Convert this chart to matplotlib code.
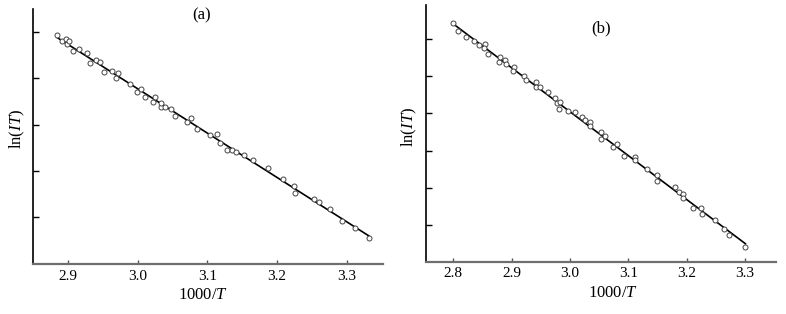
import matplotlib.pyplot as plt
import numpy as np

plt.rcParams['font.family'] = ['Liberation Serif', 'DejaVu Serif']
plt.rcParams['mathtext.fontset'] = 'custom'
plt.rcParams['mathtext.it'] = 'Liberation Serif:italic'
plt.rcParams['mathtext.rm'] = 'Liberation Serif'

# panel (a): 1000/T vs ln(IT) (y in tick units, no labels shown)
xa = [2.8846, 2.8909, 2.8962, 2.8976, 2.9014, 2.9072, 2.9154, 2.9269, 2.9313,
      2.9394, 2.9452, 2.9510, 2.9630, 2.9683, 2.9712, 2.9894, 2.9995, 3.0048,
      3.0106, 3.0216, 3.0245, 3.0327, 3.0337, 3.0389, 3.0476, 3.0534, 3.0707,
      3.0764, 3.0851, 3.1038, 3.1144, 3.1178, 3.1279, 3.1346, 3.1404, 3.1524,
      3.1654, 3.1865, 3.2091, 3.2240, 3.2255, 3.2534, 3.2606, 3.2760, 3.2933,
      3.3115, 3.3317]
ya = [3.942, 3.819, 3.848, 3.740, 3.805, 3.596, 3.632, 3.545, 3.336,
      3.394, 3.350, 3.134, 3.162, 3.004, 3.112, 2.888, 2.708, 2.765,
      2.592, 2.484, 2.592, 2.375, 2.462, 2.383, 2.347, 2.195, 2.058,
      2.152, 1.899, 1.776, 1.798, 1.610, 1.458, 1.444, 1.401, 1.336,
      1.227, 1.054, 0.823, 0.679, 0.527, 0.383, 0.332, 0.181, -0.079,
      -0.231, -0.462]

# panel (b)
xb = [2.7989, 2.8086, 2.8211, 2.8348, 2.8434, 2.8542, 2.8531, 2.8588, 2.8782,
      2.8805, 2.8890, 2.8896, 2.9033, 2.9016, 2.9216, 2.9239, 2.9416, 2.9421,
      2.9490, 2.9621, 2.9741, 2.9769, 2.9804, 2.9832, 2.9963, 3.0078, 3.0198,
      3.0260, 3.0335, 3.0346, 3.0523, 3.0534, 3.0603, 3.0740, 3.0808, 3.0928,
      3.1105, 3.1116, 3.1311, 3.1482, 3.1488, 3.1796, 3.1864, 3.1944, 3.1933,
      3.2104, 3.2241, 3.2258, 3.2486, 3.2635, 3.2732, 3.3006]
yb = [5.421, 5.215, 5.045, 4.937, 4.848, 4.857, 4.758, 4.597, 4.391,
      4.507, 4.427, 4.319, 4.256, 4.131, 4.005, 3.889, 3.835, 3.710,
      3.701, 3.575, 3.405, 3.271, 3.127, 3.306, 3.073, 3.029, 2.894,
      2.814, 2.778, 2.661, 2.491, 2.303, 2.384, 2.106, 2.168, 1.864,
      1.837, 1.747, 1.505, 1.335, 1.174, 1.030, 0.896, 0.833, 0.717,
      0.448, 0.448, 0.296, 0.125, -0.108, -0.278, -0.591]

xticks_a = [2.9, 3.0, 3.1, 3.2, 3.3]
xticks_b = [2.8, 2.9, 3.0, 3.1, 3.2, 3.3]

fig = plt.figure(figsize=(7.86, 3.14), dpi=100)

panels = [
    ([0.0416, 0.1583, 0.4461, 0.8130], xa, ya, xticks_a, (2.849, 3.3526), (-1.025, 4.505),
     range(0, 5), '(a)', (0.482, 0.976), (-0.017, 0.53), (0.485, -0.088)),
    ([0.5416, 0.1666, 0.4457, 0.8175], xb, yb, xticks_b, (2.7526, 3.353), (-0.986, 5.914),
     range(0, 6), '(b)', (0.501, 0.909), (-0.020, 0.526), (0.535, -0.091)),
]

for rect, x, y, xt, xl, yl, yt, tag, tagpos, ylpos, xlpos in panels:
    ax = fig.add_axes(rect)
    x = np.array(x)
    y = np.array(y)
    k, b = np.polyfit(x, y, 1)
    xx = np.array([x.min(), x.max()])
    ax.plot(xx, k * xx + b, color='black', linewidth=1.2, zorder=2)
    ax.plot(x, y, 'o', markersize=3.6, markerfacecolor='white',
            markeredgecolor='#444444', markeredgewidth=0.7, zorder=3)
    ax.set_xlim(*xl)
    ax.set_ylim(*yl)
    ax.set_xticks(xt)
    ax.set_xticklabels(['%.1f' % v for v in xt], fontsize=11)
    ax.set_yticks(list(yt))
    ax.set_yticklabels([])
    ax.tick_params(axis='y', direction='in', length=4, width=1.0, colors='black')
    ax.tick_params(axis='x', direction='in', length=3, width=1.0, color='#555555', pad=4)
    for s in ['top', 'right']:
        ax.spines[s].set_visible(False)
    ax.spines['left'].set_color('black')
    ax.spines['left'].set_linewidth(1.2)
    ax.spines['bottom'].set_color('#6e6e6e')
    ax.spines['bottom'].set_linewidth(1.6)
    ax.set_xlabel('1000/$\\mathit{T}$', fontsize=12)
    ax.set_ylabel('ln($\\mathit{IT}$)', fontsize=12)
    ax.xaxis.set_label_coords(*xlpos)
    ax.yaxis.set_label_coords(*ylpos)
    ax.text(tagpos[0], tagpos[1], tag, transform=ax.transAxes, fontsize=12,
            ha='center', va='center')

fig.savefig('out.png', dpi=100)
